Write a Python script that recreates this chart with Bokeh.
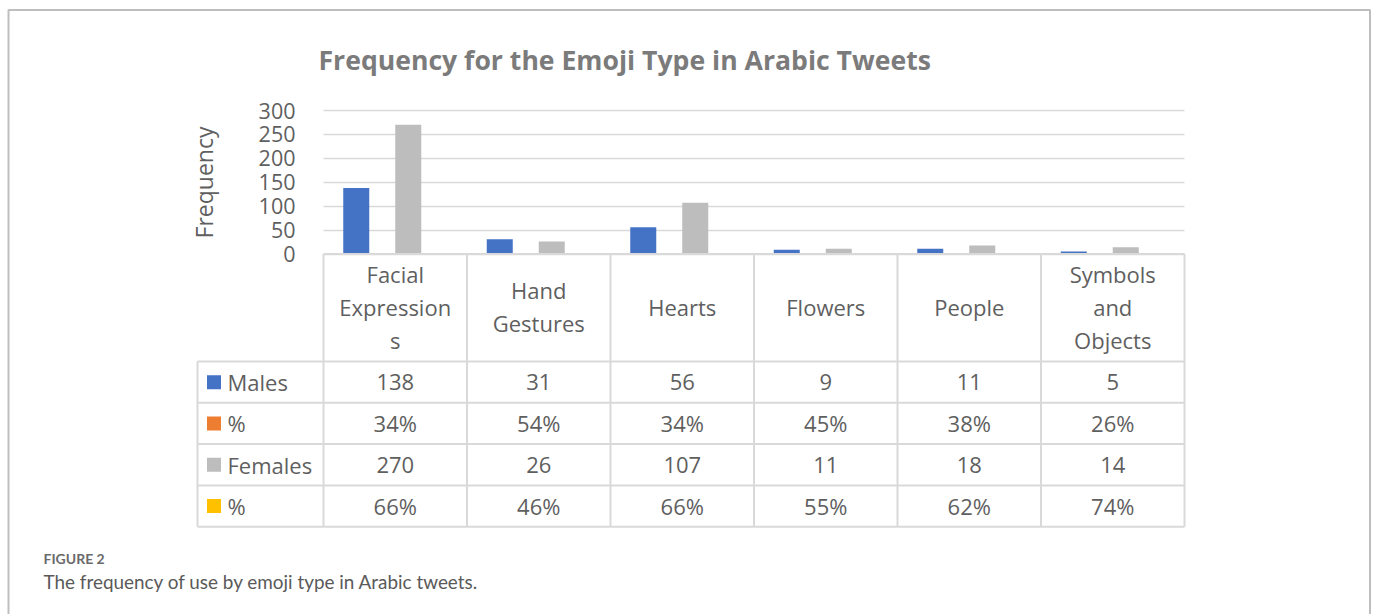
from bokeh.plotting import figure
from bokeh.models import Range1d, LinearAxis, FixedTicker, Grid
from bokeh.core.properties import value
from bokeh.embed import file_html
from bokeh.resources import INLINE

# ---- data -------------------------------------------------------------
categories = ["Facial\nExpression\ns", "Hand\nGestures", "Hearts", "Flowers",
              "People", "Symbols\nand\nObjects"]
males = [138, 31, 56, 9, 11, 5]
males_pct = [34, 54, 34, 45, 38, 26]
females = [270, 26, 107, 11, 18, 14]
females_pct = [66, 46, 66, 55, 62, 74]
series_names = ["Males", "%", "Females", "%"]
series_colors = ["#4472C4", "#ED7D31", "#BDBDBD", "#FFC000"]
y_ticks = [0, 50, 100, 150, 200, 250, 300]

title_text = "Frequency for the Emoji Type in Arabic Tweets"
y_label = "Frequency"
fig_label = "FIGURE 2"
fig_caption = "The frequency of use by emoji type in Arabic tweets."

# ---- page geometry (pixels) --------------------------------------------
W, H = 1375, 614
PLOT_L, PLOT_R = 323, 1184          # plot area / table value columns
PLOT_TOP, PLOT_BASE = 110, 253.5    # y = 300 and y = 0
TABLE_L = 197                       # left edge of the series-name column
HEADER_BOTTOM = 361
ROW_H = 41.3
FONT = "Open Sans"
TEXT_GRAY = "#5f5f5f"
LINE_GRAY = "#D9D9D9"

n = len(categories)
cw = (PLOT_R - PLOT_L) / n                       # px per category
s = (PLOT_BASE - PLOT_TOP) / y_ticks[-1]         # px per frequency unit

p = figure(width=W, height=H, output_backend="svg", toolbar_location=None,
           x_range=Range1d(-PLOT_L / cw, (W - PLOT_L) / cw),
           y_range=Range1d(-(H - PLOT_BASE) / s, PLOT_BASE / s),
           x_axis_type=None, y_axis_type=None, min_border=0)
p.extra_x_ranges = {"page": Range1d(0, W)}
p.extra_y_ranges = {"page": Range1d(H, 0)}
p.outline_line_color = None
p.background_fill_color = "white"
p.border_fill_color = "white"

# outer frame of the figure panel
p.quad(left=[8], right=[1369.5], top=[9.5], bottom=[H + 20],
       fill_color=None, line_color="#BEBEBE", line_width=2,
       x_range_name="page", y_range_name="page")

# horizontal gridlines restricted to the plot area
grid = Grid(dimension=1, ticker=FixedTicker(ticks=y_ticks),
            bounds=(y_ticks[0], y_ticks[-1]), cross_bounds=(0, n),
            grid_line_color=LINE_GRAY, grid_line_width=1.5)
p.add_layout(grid)

# y axis sitting on the left edge of the plot area
yaxis = LinearAxis(fixed_location=0, ticker=FixedTicker(ticks=y_ticks),
                   bounds=(y_ticks[0], y_ticks[-1]),
                   axis_line_color=None, major_tick_line_color=None,
                   minor_tick_line_color=None, major_label_standoff=22,
                   major_label_text_font=FONT, major_label_text_font_size="21.5px",
                   major_label_text_color=TEXT_GRAY,
                   axis_label=y_label, axis_label_text_font=FONT,
                   axis_label_text_font_size="23px", axis_label_text_font_style="normal",
                   axis_label_text_color=TEXT_GRAY, axis_label_standoff=36)
p.add_layout(yaxis, "left")

# clustered bars: four series per category
bar_w = 26 / cw
series_vals = [males, [v / 100 for v in males_pct], females, [v / 100 for v in females_pct]]
for k, (vals, color) in enumerate(zip(series_vals, series_colors)):
    xs = [i + 0.5 + (k - 1.5) * bar_w for i in range(n)]
    p.vbar(x=xs, top=vals, bottom=0, width=bar_w, fill_color=color, line_color=None)

# ---- data table under the plot ------------------------------------------
row_tops = [HEADER_BOTTOM + r * ROW_H for r in range(len(series_names) + 1)]
table_bottom = row_tops[-1]

# horizontal table rules
p.segment(x0=[PLOT_L], x1=[PLOT_R], y0=[PLOT_BASE], y1=[PLOT_BASE],
          line_color=LINE_GRAY, line_width=2, x_range_name="page", y_range_name="page")
p.segment(x0=[TABLE_L] * len(row_tops), x1=[PLOT_R] * len(row_tops),
          y0=row_tops, y1=row_tops, line_color=LINE_GRAY, line_width=2,
          x_range_name="page", y_range_name="page")
# vertical table rules at the category boundaries
p.segment(x0=list(range(n + 1)), x1=list(range(n + 1)),
          y0=[PLOT_BASE] * (n + 1), y1=[table_bottom] * (n + 1),
          line_color=LINE_GRAY, line_width=2, y_range_name="page")
p.segment(x0=[TABLE_L], x1=[TABLE_L], y0=[HEADER_BOTTOM], y1=[table_bottom],
          line_color=LINE_GRAY, line_width=2, x_range_name="page", y_range_name="page")

# category headers
p.text(x=[i + 0.5 for i in range(n)], y=[(PLOT_BASE + HEADER_BOTTOM) / 2 - 1] * n,
       text=categories, text_font=value(FONT), text_font_size="22px",
       text_color=TEXT_GRAY, text_align="center", text_baseline="middle",
       text_line_height=1.1, y_range_name="page")

# table cells
row_texts = [[str(v) for v in males], [f"{v}%" for v in males_pct],
             [str(v) for v in females], [f"{v}%" for v in females_pct]]
cell_x, cell_y, cell_t = [], [], []
for r, texts in enumerate(row_texts):
    yc = row_tops[r] + ROW_H / 2
    for i, t in enumerate(texts):
        cell_x.append(i + 0.5)
        cell_y.append(yc)
        cell_t.append(t)
p.text(x=cell_x, y=cell_y, text=cell_t, text_font=value(FONT), text_font_size="22px",
       text_color=TEXT_GRAY, text_align="center", text_baseline="middle",
       y_range_name="page")

# legend keys and series names in the first column
row_centers = [row_tops[r] + ROW_H / 2 for r in range(len(series_names))]
p.rect(x=[213.5] * len(series_names), y=row_centers, width=14, height=14,
       fill_color=series_colors, line_color=None,
       x_range_name="page", y_range_name="page")
p.text(x=[227] * len(series_names), y=row_centers, text=series_names,
       text_font=value(FONT), text_font_size="22px", text_color=TEXT_GRAY,
       text_align="left", text_baseline="middle",
       x_range_name="page", y_range_name="page")

# chart title
p.text(x=[318], y=[59], text=[title_text], text_font=value(FONT),
       text_font_size="26.6px", text_font_style="bold", text_color="#7B7B7B",
       text_align="left", text_baseline="alphabetic",
       x_range_name="page", y_range_name="page")

# figure caption
p.text(x=[43], y=[557.5], text=[fig_label], text_font=value("Lato"),
       text_font_size="14px", text_font_style="bold", text_color="#6a6a6a",
       text_align="left", text_baseline="alphabetic",
       x_range_name="page", y_range_name="page")
p.text(x=[43], y=[580.5], text=[fig_caption], text_font=value("Lato"),
       text_font_size="18.9px", text_color="#5a5a5a",
       text_align="left", text_baseline="alphabetic",
       x_range_name="page", y_range_name="page")

open("out.html", "w").write(file_html(p, INLINE))
